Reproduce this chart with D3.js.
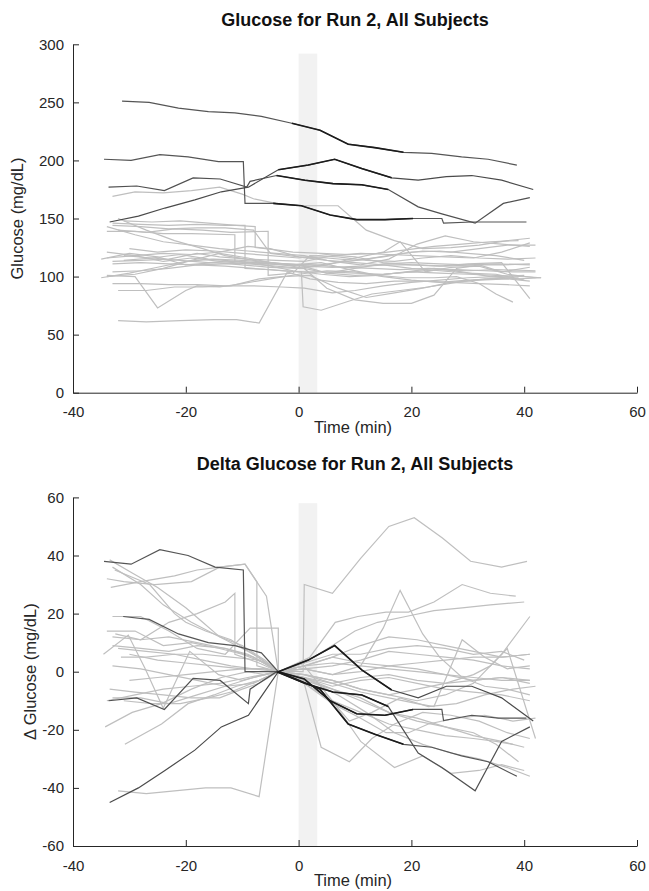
<!DOCTYPE html>
<html>
<head>
<meta charset="utf-8">
<script src="https://cdn.jsdelivr.net/npm/d3@7"></script>
<style>
  body { margin: 0; background: #fff; }
  svg { display: block; font-family: "Liberation Sans", Arial, sans-serif; }
</style>
</head>
<body>
<svg id="chart" width="649" height="891"></svg>
<script>
// axis ticks
var timeTicks = [-40, -20, 0, 20, 40, 60];
var glucoseTicks = [0, 50, 100, 150, 200, 250, 300];
var deltaTicks = [-60, -40, -20, 0, 20, 40, 60];

// shaded infusion window (min), and its top in each panel
var bandTime = [0, 3.3];
var bandTopGlucose = 292;
var bandTopDelta = 58;

// window where the highlighted subjects are drawn darker
var darkWindow = [-5, 21];

// glucose, light subjects: [time, mg/dL]
var glucoseGray = [
  [[-33,169],[-29,173],[-24,172],[-19,174],[-14,177],[-10,171],[-8,167],[-4,163],[1,161],[7,161],[12,140],[17,131],[22,124],[27,125],[32,127],[37,131],[41,133]],
  [[-32,62],[-27,61],[-21,62],[-15,63],[-11,63],[-7,60],[-2,104],[2,98],[7,95],[12,94],[17,96],[22,96],[27,95],[32,94],[37,93],[41,92]],
  [[-34,101],[-29,100],[-25,73],[-20,88],[-18,92],[-14,91],[-10,94],[-5,98],[0,102],[5,105],[10,104],[15,100],[20,97],[25,95],[30,97],[35,98],[39,99]],
  [[-33,94],[-28,94],[-23,93],[-18,93],[-13,92],[-8,92],[-3,91],[1,90],[6,86],[10,88],[15,92],[20,95],[25,97],[30,99],[35,100],[40,101]],
  [[-33,104],[-28,105],[-23,107],[-18,110],[-13,109],[-8,107],[-3,105],[0.5,104],[0.8,74],[4,71],[9,79],[13,85],[18,88],[23,91],[28,95],[33,98],[38,99]],
  [[-34,116],[-29,118],[-24,113],[-19,116],[-14,113],[-9,111],[-4,109],[1,107],[5,90],[10,80],[15,77],[20,77],[24,84],[28,107],[32,110],[36,104],[41,108]],
  [[-31,118],[-26,116],[-21,119],[-16,115],[-11,113],[-6,111],[-1,110],[4,112],[9,106],[14,101],[19,99],[24,99],[28,100],[32,94],[35,85],[38,78]],
  [[-30,124],[-25,121],[-20,123],[-15,122],[-10,120],[-5,118],[0,116],[5,119],[10,117],[15,112],[20,110],[25,109],[30,111],[36,112],[41,81]],
  [[-34,139],[-29,139],[-24,137],[-19,137],[-11.3,136],[-11.3,113],[-7,112],[-2,111],[3,110],[8,108],[13,107],[18,106],[23,107],[28,106],[33,105],[38,104],[42,104]],
  [[-33,146],[-28,145],[-23,144],[-18,145],[-13,144],[-9.5,144],[-9.5,107],[-5,106],[0,104],[5,104],[10,103],[15,102],[20,104],[25,106],[30,105],[35,106],[42,105]],
  [[-31,148],[-26,147],[-21,148],[-16,146],[-11,144],[-7.7,143],[-7.7,125],[-4,123],[-1,121],[4,120],[9,119],[14,120],[19,123],[24,126],[29,128],[34,130],[39,131]],
  [[-32,150],[-27,140],[-22,131],[-17,124],[-13,118],[-8,114],[-3,111],[2,109],[7,112],[12,115],[17,119],[22,122],[27,121],[32,124],[37,127],[42,127]],
  [[-34,143],[-29,136],[-24,130],[-19,127],[-14,124],[-9,122],[-4,120],[1,118],[6,113],[11,110],[16,115],[21,128],[26,135],[31,130],[36,128],[41,126]],
  [[-35,115],[-30,120],[-25,117],[-20,110],[-15,112],[-10,110],[-5,108],[0,107],[5,110],[10,116],[15,121],[18,130],[22.5,104],[27,108],[32,109],[37,102],[42,99]],
  [[-33,113],[-28,114],[-23,115],[-18,120],[-14,117],[-9,115],[-4,114],[1,113],[6,118],[11,120],[16,119],[21,118],[26,117],[31,116],[36,121],[41,129]],
  [[-34,100],[-29,102],[-24,107],[-19,114],[-14,120],[-9,116],[-5,112],[0,108],[5,103],[10,107],[15,111],[20,112],[25,111],[30,110],[35,111],[41,110]],
  [[-32,140],[-27,138],[-22,141],[-17,140],[-12,138],[-5.4,139],[-5.4,101],[-1,103],[2,118],[7,117],[12,114],[17,113],[22,116],[27,118],[32,116],[37,115],[42,116]],
  [[-35,99],[-30,103],[-25,108],[-20,113],[-15,115],[-10,114],[-5,112],[0,110],[5,103],[10,101],[15,102],[20,104],[25,103],[30,102],[35,101],[40,100],[43,99]],
  [[-33,111],[-28,112],[-23,111],[-18,110],[-13,111],[-8,112],[-3,110],[1,109],[6,108],[11,109],[16,110],[21,110],[26,109],[31,110],[36,110],[41,111]],
  [[-31,114],[-26,116],[-21,114],[-16,112],[-11,113],[-6,110],[-1,105],[4,102],[9,100],[14,101],[19,104],[24,107],[29,104],[34,100],[39,98],[43,99]],
  [[-34,121],[-29,118],[-24,120],[-19,119],[-14,121],[-9,126],[-5,124],[0,117],[5,114],[10,112],[15,110],[20,107],[25,105],[30,103],[35,102],[40,97]],
  [[-33,144],[-28,143],[-23,141],[-18,142],[-13,142],[-8,140],[-5,120],[0,117],[5,116],[10,114],[15,117],[20,121],[25,122],[30,120],[35,118],[40,114]],
  [[-32,88],[-27,88],[-22,91],[-17,91],[-12,92],[-7,98],[-3,100],[2,101],[7,90],[12,82],[17,86],[22,90],[27,95],[32,97],[37,98],[41,96]]
];

// glucose, highlighted subjects
var glucoseDark = [
  [[-31.3,251],[-26.5,250],[-21.3,245],[-16,242],[-11.3,241],[-6.6,238],[-1.2,232],[3.8,226],[8.8,214],[13.5,211],[18.6,207],[23.6,206],[28.9,203],[33.6,201],[38.7,196]],
  [[-34.5,201],[-29.7,200],[-24.6,205],[-19.6,203],[-14.2,199],[-9.8,199],[-9.5,163],[-4.5,163],[0.5,161],[5.6,153],[10.3,149],[15.3,149],[20.3,150],[25.4,150],[25.7,146],[30.7,147],[35.4,147],[40.4,147]],
  [[-33.7,177],[-28.7,178],[-23.8,174],[-18.7,185],[-13.9,184],[-9.2,177],[-8.6,182],[-3.9,187],[1.1,183],[6.1,180],[11.2,179],[15.9,175],[21.2,160],[25.4,154],[31.3,146],[36.3,163],[41,168]],
  [[-33.5,147],[-28.4,152],[-23.7,159],[-18.4,166],[-13.7,173],[-8.9,177],[-3.6,192],[1.7,196],[6.4,201],[11.2,193],[16.5,185],[21.2,183],[26.2,186],[30.7,187],[36,183],[41.6,175]]
];

// change from baseline, light subjects: [time, mg/dL]
var deltaGray = [
  [[-32,-41],[-27,-42],[-22,-41],[-16.5,-40],[-12,-40],[-7,-43],[-3.6,0],[0.8,0],[1,30],[6,27],[11,39],[16,50],[20.5,53],[25.5,46],[30.5,38],[36,36],[40.5,38]],
  [[-33.5,38.5],[-29.5,34],[-25,29],[-20,22],[-17,17],[-14,12],[-10,9],[-6,4],[-3.6,0],[2,5],[6.5,17],[10.5,19],[15.5,20.5],[19.5,20.5],[24,24],[29,30],[34,27],[38.5,26]],
  [[-34,32],[-31,31],[-25.5,30],[-19,31],[-14,36],[-9.5,37],[-7.4,31],[-7.4,2],[-3.6,0],[1,-1],[6,-4],[11,-2],[16,-1],[21,-3],[26,-4],[31,-3],[36,-2],[41,-4]],
  [[-33.3,29],[-28,31],[-22,33],[-18,35],[-14,36],[-9.5,37],[-5.7,26],[-3.6,0],[1,-3],[6,-6],[11,-9],[16,-14],[21,-16],[26,-19],[31,-22],[36,-24],[40,-26]],
  [[-32.6,35],[-26.4,30],[-22,20],[-20,17],[-16.5,14],[-12,11],[-8,6],[-3.6,0],[1,2],[6,5],[11,3],[16,2],[21,3],[26,4],[31,5],[36,5],[41,6]],
  [[-34,14],[-29,14],[-24,9],[-19,10],[-14,8],[-10,6],[-6,3],[-3.6,0],[1,1],[6,2],[11,4],[16,7],[21,6],[26,5],[31,4],[36,2],[41,1]],
  [[-34.6,6],[-30.2,12.6],[-27.2,1],[-24,-12.6],[-19.3,7],[-14.2,-1],[-10,-3],[-6,-1],[-3.6,0],[1,-2],[6,-5],[11,-3],[16,-2],[21,-4],[26,-6],[31,-7],[36,-8],[41,-10]],
  [[-33,9],[-28,8],[-23,7],[-18,9],[-13,8],[-9,6],[-6,3],[-3.6,0],[1,1],[6,-1],[11,0],[16,2],[21,1],[26,-1],[31,-3],[36,-2],[41,-3]],
  [[-31.5,5],[-27,5],[-22,6],[-17,4],[-12,2],[-8,1],[-3.6,0],[1,-3],[5,-8],[9,-17],[13,-14],[18,-9],[23,-12],[28,-11],[33,-8],[38,-6],[42,-5]],
  [[-34.3,-19],[-29.5,-14],[-24.3,-11],[-19,-6],[-13.7,-2],[-9,0],[-6,-1],[-3.6,0],[1,3],[6,6],[11,6],[16,8],[21,9],[26,8],[31,6],[36,7],[40,4]],
  [[-30.8,-25],[-24.3,-18],[-19.6,-11],[-15,-8],[-11,-5],[-7,-3],[-3.6,0],[1,-4],[4,-26],[9,-31],[13,-23],[17,-18],[22,-14],[27,-15],[32,-17],[37,-21],[41,-23]],
  [[-33.5,-6],[-29,-7],[-24,-8],[-19,-9],[-14,-9],[-10,-6],[-7,-4],[-3.6,0],[1,2],[6,-10],[11,-24],[17,-33],[22,-29],[27,-35],[32,-34],[36,-32],[40,-34]],
  [[-33,12],[-28,11],[-23,12],[-18,10],[-13,8],[-8,5],[-3.6,0],[1,1],[6,-1],[11,2],[15,15],[18,28],[22,13],[25,5],[29,-2],[33,-5],[37,-6],[41,-8]],
  [[-32,8],[-27,7],[-22,6],[-17,6],[-12,5],[-7,4],[-3.6,0],[1,-1],[6,-3],[11,-6],[16,-8],[21,-10],[26,-8],[31,-4],[36,6],[41,19]],
  [[-33,-9],[-28,-9],[-23,-11],[-18,-8],[-13,-5],[-8,-2],[-3.6,0],[1,-2],[6,-4],[11,-7],[16,-9],[21,-11],[24,-12],[29,11],[33,5],[37,1],[41,2]],
  [[-31,-10],[-26,-11],[-21,-11],[-16,-9],[-12,-7],[-7,-3],[-3.6,0],[1,-1],[6,-3],[11,-6],[16,-8],[21,-6],[26,-4],[31,-1],[34,2],[37,8],[42,-23]],
  [[-30,6],[-25,4],[-20,3],[-15,2],[-10,1],[-6,1],[-3.6,0],[1,-2],[6,-6],[11,-10],[16,-14],[21,-17],[26,-19],[31,-21],[35,-25],[39,-31]],
  [[-34,-10],[-29,-8],[-24,-6],[-19,-5],[-14,-4],[-9,-2],[-3.6,0],[1,-4],[6,-11],[11,-16],[15.5,-21],[19.5,-21],[23,-18],[28,-16],[33,-15],[38,-17],[42,-16]],
  [[-32.5,13],[-28,11],[-23,17],[-18,20],[-13,24],[-11.3,27],[-11.3,6],[-7,3],[-3.6,0],[1,2],[6,3],[11,2],[16,1],[21,0],[26,-1],[31,-2],[36,-3],[41,-3]],
  [[-33,19],[-28,19],[-23,14],[-18,8],[-13,6],[-8.6,15],[-3.6,15],[-3.6,0],[1,3],[6,9],[10,14],[14,17],[19,19],[24,21],[29,22],[34,23],[40,24]],
  [[-33,36],[-28,30],[-24,23],[-19,17],[-15,13],[-11,9],[-7,5],[-3.6,0],[1,-4],[6,-10],[11,-14],[16,-18],[21,-20],[26,-22],[31,-23],[35,-24],[38,-25]],
  [[-30,-3],[-25,-2],[-20,-1],[-15,0],[-10,1],[-6,1],[-3.6,0],[2,-3],[7,-8],[12,-14],[17,-21],[22,-25],[27,-28],[32,-30],[37,-33],[41,-36]],
  [[-33,2],[-28,1],[-23,-1],[-18,-3],[-13,-5],[-8,-4],[-3.6,0],[1,2],[6,5],[11,9],[16,12],[21,11],[26,9],[31,7],[36,5],[41,6]]
];

// change from baseline, highlighted subjects
var deltaDark = [
  [[-31.1,19],[-26.5,18],[-21.3,13],[-16,10],[-11.3,9],[-6.6,6.5],[-3.6,0],[3.8,-6],[8.8,-18],[13.5,-21.5],[18.6,-25],[23.6,-26],[28.9,-29],[33.6,-31],[38.7,-36]],
  [[-34.5,38],[-29.7,37],[-24.6,42],[-19.6,40],[-14.8,36],[-9.8,35],[-9.5,0],[-3.6,0],[1,-2.5],[5.6,-10],[10.3,-14.5],[15.3,-15],[20.3,-13],[25.4,-13],[25.7,-16.8],[30.7,-15],[35.4,-16],[40.4,-16]],
  [[-33.7,-10],[-28.7,-9],[-23.8,-13],[-18.7,-2.3],[-13.9,-3],[-8.9,-11],[-8.6,-6],[-3.9,0],[1.1,-4],[6.1,-7],[11.2,-8],[15.9,-12],[21.2,-28],[25.4,-33],[31.3,-41],[36,-24],[41,-19]],
  [[-33.5,-45],[-28.4,-40],[-23.7,-34],[-18.4,-27],[-13.7,-19],[-8.9,-15],[-3.6,0],[1.7,4],[6.4,9],[11.2,0.6],[16.5,-6.3],[21.2,-9],[26.2,-5],[30.7,-5],[36,-9],[41.6,-17]]
];

var darkShades = ["#555555", "#555555", "#505050", "#4a4a4a"];

var svg = d3.select("#chart");
var axisColor = "#262626";

var x = d3.scaleLinear().domain([-40, 60]).range([73, 637]);

// MATLAB style labels use a plain hyphen for negatives
function plainNumber(d) { return String(d); }

function drawPanel(cfg) {
  var y = d3.scaleLinear().domain(cfg.domain).range([cfg.bottom, cfg.top]);
  var g = svg.append("g");

  // infusion band
  g.append("rect")
    .attr("x", x(bandTime[0]))
    .attr("width", x(bandTime[1]) - x(bandTime[0]))
    .attr("y", y(cfg.bandTop))
    .attr("height", y(cfg.domain[0]) - y(cfg.bandTop))
    .attr("fill", "#f2f2f2");

  var line = d3.line()
    .x(function (d) { return x(d[0]); })
    .y(function (d) { return y(d[1]); });

  g.append("g").selectAll("path")
    .data(cfg.gray)
    .enter().append("path")
      .attr("d", line)
      .attr("fill", "none")
      .attr("stroke", "#bfbfbf")
      .attr("stroke-width", 1.2);

  g.append("g").selectAll("path")
    .data(cfg.dark)
    .enter().append("path")
      .attr("d", line)
      .attr("fill", "none")
      .attr("stroke", function (d, i) { return darkShades[i]; })
      .attr("stroke-width", 1.2);

  // darker part of the highlighted subjects around the infusion
  g.append("g").selectAll("path")
    .data(cfg.dark.map(function (s) {
      return s.filter(function (p) { return p[0] >= darkWindow[0] && p[0] <= darkWindow[1]; });
    }))
    .enter().append("path")
      .attr("d", line)
      .attr("fill", "none")
      .attr("stroke", "#1c1c1c")
      .attr("stroke-width", 1.6);

  // axes (ticks point inward)
  var yAxis = g.append("g")
    .attr("transform", "translate(" + x(-40) + ",0)")
    .call(d3.axisLeft(y).tickValues(cfg.ticks).tickFormat(plainNumber)
      .tickSizeInner(-6).tickSizeOuter(0).tickPadding(9));
  var xAxis = g.append("g")
    .attr("transform", "translate(0," + cfg.bottom + ")")
    .call(d3.axisBottom(x).tickValues(timeTicks).tickFormat(plainNumber)
      .tickSizeInner(-6).tickSizeOuter(0).tickPadding(14));

  [yAxis, xAxis].forEach(function (a) {
    a.attr("font-family", null).attr("font-size", 15);
    a.selectAll("path, line").attr("stroke", axisColor);
    a.selectAll("text").attr("fill", axisColor);
  });

  g.append("text")
    .attr("x", 355)
    .attr("y", cfg.titleY)
    .attr("text-anchor", "middle")
    .attr("font-size", 18)
    .attr("font-weight", "bold")
    .attr("fill", "#111")
    .text(cfg.title);

  g.append("text")
    .attr("x", 353)
    .attr("y", cfg.bottom + 40)
    .attr("text-anchor", "middle")
    .attr("font-size", 16.5)
    .attr("fill", axisColor)
    .text("Time (min)");

  g.append("text")
    .attr("transform", "translate(" + cfg.labelX + "," + (cfg.top + cfg.bottom) / 2 + ") rotate(-90)")
    .attr("text-anchor", "middle")
    .attr("font-size", 16.5)
    .attr("fill", axisColor)
    .text(cfg.yLabel);
}

drawPanel({
  title: "Glucose for Run 2, All Subjects",
  yLabel: "Glucose (mg/dL)",
  domain: [0, 300],
  ticks: glucoseTicks,
  top: 44.3,
  bottom: 392.7,
  titleY: 26,
  bandTop: bandTopGlucose,
  labelX: 23,
  gray: glucoseGray,
  dark: glucoseDark
});

drawPanel({
  title: "Delta Glucose for Run 2, All Subjects",
  yLabel: "\u0394 Glucose (mg/dL)",
  domain: [-60, 60],
  ticks: deltaTicks,
  top: 497.4,
  bottom: 846,
  titleY: 470,
  bandTop: bandTopDelta,
  labelX: 36,
  gray: deltaGray,
  dark: deltaDark
});
</script>
</body>
</html>
